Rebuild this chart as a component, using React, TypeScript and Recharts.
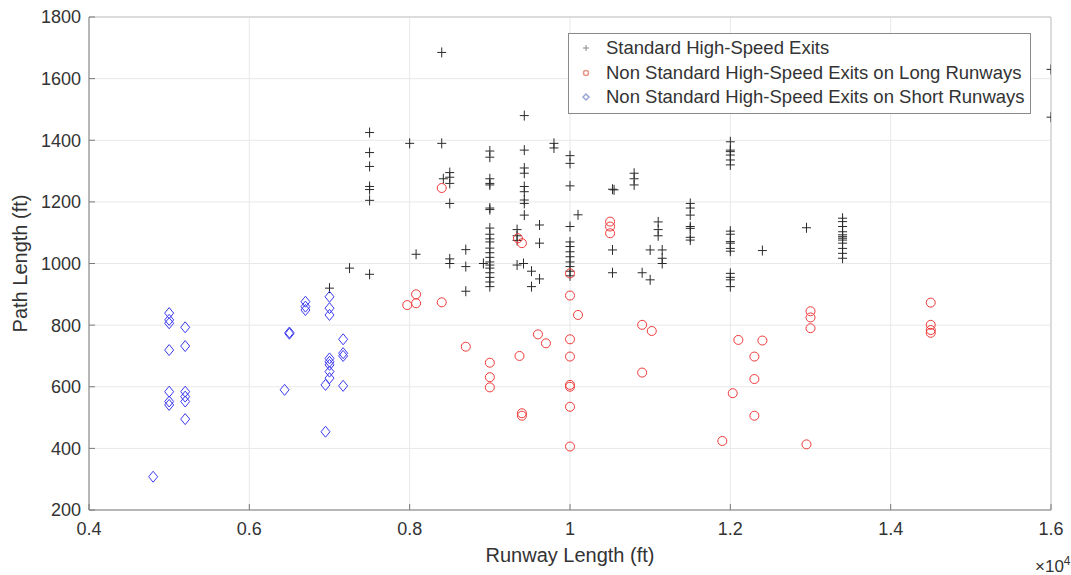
import React from "react";
import {
  ScatterChart,
  Scatter,
  XAxis,
  YAxis,
  CartesianGrid,
  ReferenceLine,
  Legend,
  Label,
} from "recharts";

type Pt = [number, number];

// [runway length (ft), path length (ft)]
const standardExits: Pt[] = [
  [7000, 920], [7250, 985],
  [7500, 1425], [7500, 1360], [7500, 1315], [7500, 1250], [7500, 1240], [7500, 1205], [7500, 965],
  [8000, 1390], [8080, 1030],
  [8400, 1685], [8400, 1390], [8420, 1275],
  [8500, 1295], [8500, 1280], [8500, 1260], [8500, 1195], [8500, 1015], [8500, 1000],
  [8700, 1045], [8700, 990], [8700, 910], [8920, 1000],
  [9000, 1365], [9000, 1345], [9000, 1275], [9000, 1260], [9000, 1255], [9000, 1180], [9000, 1175],
  [9000, 1115], [9000, 1095], [9000, 1080], [9000, 1070], [9000, 1050], [9000, 1035], [9000, 1020],
  [9000, 1005], [9000, 995], [9000, 985], [9000, 970], [9000, 955], [9000, 940], [9000, 925],
  [9340, 1110], [9340, 1090], [9340, 1075], [9340, 995], [9420, 1000],
  [9430, 1480], [9430, 1368], [9430, 1310], [9430, 1293], [9430, 1250], [9430, 1233], [9430, 1206],
  [9430, 1195], [9430, 1157],
  [9520, 975], [9520, 925], [9620, 1125], [9620, 1066], [9620, 950],
  [9800, 1390], [9800, 1375],
  [10000, 1350], [10000, 1325], [10000, 1252], [10000, 1120], [10000, 1070], [10000, 1055],
  [10000, 1038], [10000, 1022], [10000, 1005], [10000, 990], [10000, 975], [10000, 960],
  [10100, 1158],
  [10530, 1241], [10550, 1239], [10530, 1044], [10530, 970],
  [10800, 1293], [10800, 1275], [10800, 1255],
  [10900, 970], [11000, 1044], [11000, 947],
  [11100, 1135], [11100, 1110], [11100, 1090],
  [11150, 1044], [11150, 1017], [11150, 1000],
  [11500, 1195], [11500, 1180], [11500, 1157], [11500, 1120], [11500, 1114], [11500, 1085], [11500, 1076],
  [12000, 1395], [12000, 1368], [12000, 1363], [12000, 1352], [12000, 1336], [12000, 1320],
  [12000, 1105], [12000, 1095], [12000, 1071], [12000, 1066], [12000, 1049], [12000, 1040],
  [12000, 968], [12000, 955], [12000, 947], [12000, 925],
  [12400, 1042], [12950, 1116],
  [13400, 1147], [13400, 1136], [13400, 1120], [13400, 1103], [13400, 1093], [13400, 1087],
  [13400, 1082], [13400, 1076], [13400, 1066], [13400, 1049], [13400, 1033], [13400, 1017],
  [16000, 1630], [16000, 1475],
];

const longRunwayExits: Pt[] = [
  [7970, 865], [8080, 900], [8080, 871],
  [8400, 1245], [8400, 874], [8700, 730],
  [9000, 678], [9000, 631], [9000, 598],
  [9350, 1082], [9370, 700], [9400, 1066], [9400, 514], [9400, 506],
  [9600, 770], [9700, 741],
  [10000, 968], [10000, 896], [10000, 754], [10000, 698], [10000, 606], [10000, 600], [10000, 535], [10000, 406],
  [10100, 833],
  [10500, 1136], [10500, 1120], [10500, 1098],
  [10900, 801], [10900, 646], [11020, 781],
  [11900, 424], [12030, 579], [12100, 752],
  [12300, 698], [12300, 625], [12300, 506], [12400, 750],
  [12950, 413],
  [13000, 845], [13000, 825], [13000, 790],
  [14500, 873], [14500, 801], [14500, 784], [14500, 775],
];

const shortRunwayExits: Pt[] = [
  [4800, 308],
  [5000, 839], [5000, 817], [5000, 806], [5000, 719], [5000, 584], [5000, 552], [5000, 541],
  [5200, 793], [5200, 732], [5200, 584], [5200, 568], [5200, 552], [5200, 495],
  [6440, 590], [6500, 776], [6500, 772],
  [6700, 876], [6700, 860], [6700, 849],
  [6950, 606], [6950, 454],
  [7000, 892], [7000, 855], [7000, 833], [7000, 692], [7000, 681], [7000, 671], [7000, 649], [7000, 628],
  [7170, 754], [7170, 709], [7170, 700], [7170, 603],
];

const xTicks = [4000, 6000, 8000, 10000, 12000, 14000, 16000];
const yTicks = [200, 400, 600, 800, 1000, 1200, 1400, 1600, 1800];

const seriesNames = [
  "Standard High-Speed Exits",
  "Non Standard High-Speed Exits on Long Runways",
  "Non Standard High-Speed Exits on Short Runways",
];

const FONT = '"Liberation Sans", Arial, Helvetica, sans-serif';
const BLACK = "#2a2a2a";
const RED = "#f03a3a";
const BLUE = "#3a3af0";
const AXIS = "#7a7a7a";
const TEXT = "#333333";

const toRows = (pts: Pt[]) => pts.map(([x, y]) => ({ x, y }));

const PlusShape = (props: any) => {
  const { cx, cy } = props;
  return (
    <path
      d={`M${cx - 4.5},${cy}H${cx + 4.5}M${cx},${cy - 5}V${cy + 5}`}
      stroke={BLACK}
      strokeWidth={1}
      fill="none"
    />
  );
};

const CircleShape = (props: any) => {
  const { cx, cy } = props;
  return <circle cx={cx} cy={cy} r={4.5} fill="none" stroke={RED} strokeWidth={1} />;
};

const DiamondShape = (props: any) => {
  const { cx, cy } = props;
  return (
    <path
      d={`M${cx},${cy - 5.5}L${cx + 4.5},${cy}L${cx},${cy + 5.5}L${cx - 4.5},${cy}Z`}
      fill="none"
      stroke={BLUE}
      strokeWidth={1}
    />
  );
};

const legendMarkers = [
  <path key="p" d="M3,7H9M6,4V10" stroke="#888" strokeWidth={1} fill="none" />,
  <circle key="c" cx={6} cy={7} r={2.5} fill="none" stroke="#e89a8a" strokeWidth={1.5} />,
  <path key="d" d="M6,4L9,7L6,10L3,7Z" fill="none" stroke="#9aa6d8" strokeWidth={1.5} />,
];

const LegendBox = () => (
  <div
    style={{
      border: "1px solid #8a8a8a",
      background: "#fff",
      padding: "2px 0 3px 0",
      fontFamily: FONT,
      fontSize: 18.5,
      color: TEXT,
      width: 463,
      boxSizing: "border-box",
    }}
  >
    {seriesNames.map((name, i) => (
      <div key={name} style={{ display: "flex", alignItems: "center", height: 24.5 }}>
        <svg width={12} height={14} style={{ marginLeft: 11, marginRight: 14 }}>
          {legendMarkers[i]}
        </svg>
        <span style={{ whiteSpace: "nowrap" }}>{name}</span>
      </div>
    ))}
  </div>
);

const XLabel = (props: any) => {
  const { viewBox } = props;
  const { x, y, width } = viewBox;
  return (
    <g fontFamily={FONT} fill={TEXT}>
      <text x={x + width / 2} y={y + 52} textAnchor="middle" fontSize={20}>
        Runway Length (ft)
      </text>
      <text x={x + width - 16} y={y + 62} textAnchor="start" fontSize={17}>
        ×10
        <tspan fontSize={12} dy={-7}>4</tspan>
      </text>
    </g>
  );
};

const YLabel = (props: any) => {
  const { viewBox } = props;
  const { y, height } = viewBox;
  const cx = 20;
  const cy = y + height / 2;
  return (
    <text
      x={cx}
      y={cy}
      transform={`rotate(-90, ${cx}, ${cy})`}
      textAnchor="middle"
      dominantBaseline="central"
      fontFamily={FONT}
      fontSize={20}
      fill={TEXT}
    >
      Path Length (ft)
    </text>
  );
};

const fmtX = (v: number) => String(v / 10000);

export default function App() {
  const tickStyle = { fontFamily: FONT, fontSize: 18, fill: TEXT };
  return (
    <div style={{ position: "absolute", left: 0, top: 0, width: 1071, height: 575, background: "#fff" }}>
      <ScatterChart width={1071} height={575} margin={{ top: 17, right: 20, bottom: 0, left: 0 }}>
        <CartesianGrid stroke="#e8e8e8" />
        <XAxis
          type="number"
          dataKey="x"
          domain={[4000, 16000]}
          ticks={xTicks}
          tickFormatter={fmtX}
          height={65}
          tickSize={-6}
          tickMargin={18}
          stroke={AXIS}
          tick={tickStyle}
          allowDataOverflow
        >
          <Label content={XLabel} />
        </XAxis>
        <YAxis
          type="number"
          dataKey="y"
          domain={[200, 1800]}
          ticks={yTicks}
          width={89}
          tickSize={-6}
          tickMargin={14}
          stroke={AXIS}
          tick={tickStyle}
          allowDataOverflow
        >
          <Label content={YLabel} />
        </YAxis>
        <ReferenceLine y={1800} stroke="#c4c4c4" />
        <ReferenceLine x={16000} stroke="#c4c4c4" />
        <Scatter
          name={seriesNames[0]}
          data={toRows(standardExits)}
          shape={PlusShape}
          isAnimationActive={false}
        />
        <Scatter
          name={seriesNames[1]}
          data={toRows(longRunwayExits)}
          shape={CircleShape}
          isAnimationActive={false}
        />
        <Scatter
          name={seriesNames[2]}
          data={toRows(shortRunwayExits)}
          shape={DiamondShape}
          isAnimationActive={false}
        />
        <Legend
          layout="vertical"
          align="center"
          verticalAlign="middle"
          content={LegendBox}
          wrapperStyle={{ top: 33, left: 568, width: 465, height: 76 }}
        />
      </ScatterChart>
    </div>
  );
}
